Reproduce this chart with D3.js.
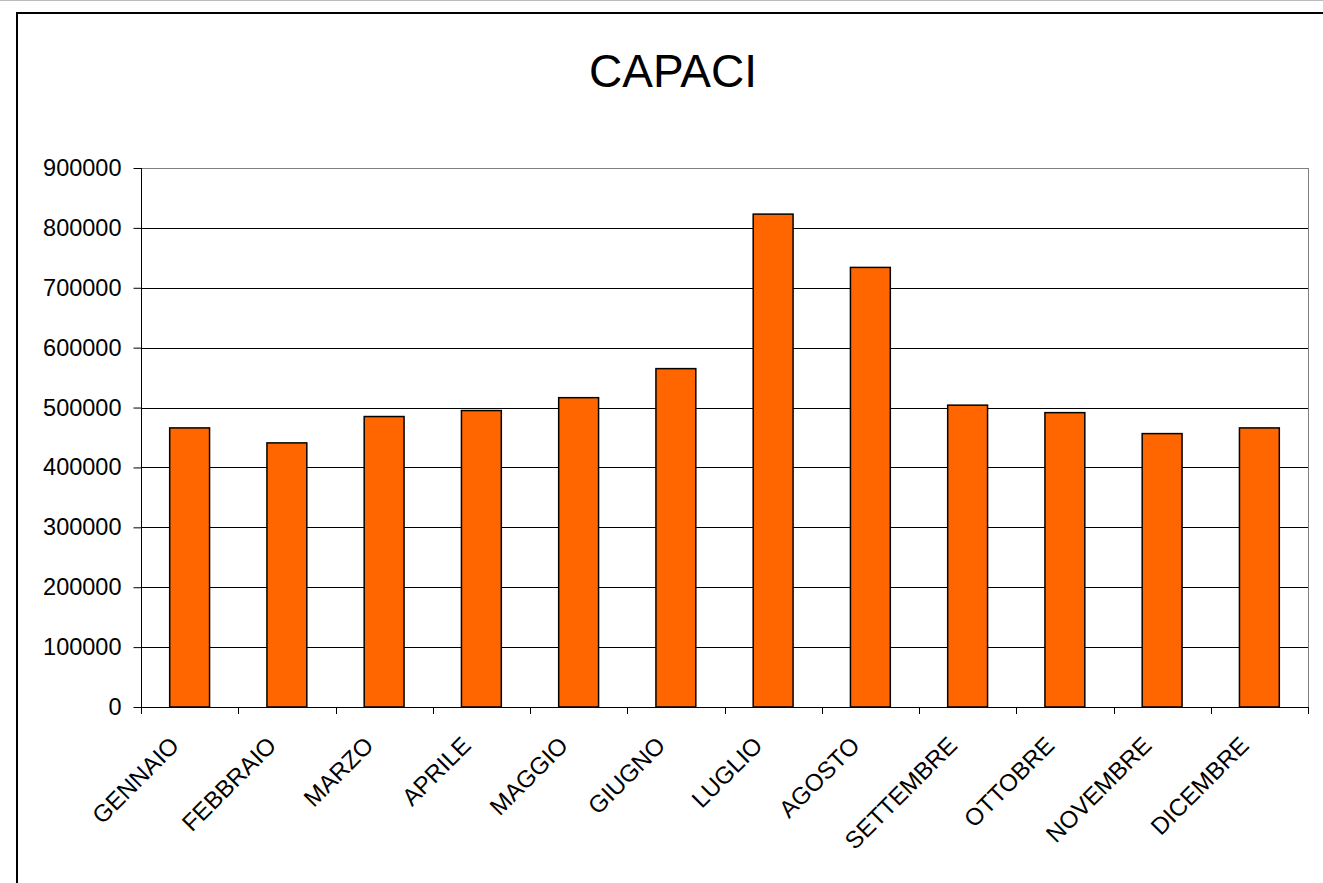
<!DOCTYPE html>
<html><head><meta charset="utf-8">
<script src="https://cdn.jsdelivr.net/npm/d3@7"></script>
<style>body{margin:0;background:#fff}svg{display:block}text{font-family:"Liberation Sans",Arial,sans-serif;fill:#000}</style>
</head><body>
<svg id="c" width="1323" height="883"></svg>
<script>
const categories = ["GENNAIO","FEBBRAIO","MARZO","APRILE","MAGGIO","GIUGNO","LUGLIO","AGOSTO","SETTEMBRE","OTTOBRE","NOVEMBRE","DICEMBRE"];
const values = [466000,441000,485000,495000,516500,565000,823000,734000,504000,491500,456500,466000];
const yTicks = [0,100000,200000,300000,400000,500000,600000,700000,800000,900000];
const title = "CAPACI";

const svg = d3.select("#c");
svg.append("line").attr("x1",0).attr("x2",1323).attr("y1",0.5).attr("y2",0.5).attr("stroke","#bbb");
svg.append("path").attr("d","M17,890 V13 H1330").attr("fill","none").attr("stroke","#000").attr("stroke-width",2);

const L=141,R=1308,T=168,B=707;
const x = d3.scaleBand().domain(categories).range([L,R]).paddingInner(0.59).paddingOuter(0.295);
const xb = d3.scaleBand().domain(categories).range([L,R]);
const y = d3.scaleLinear().domain([0,900000]).range([B,T]);

svg.append("text").attr("x",673).attr("y",87).attr("text-anchor","middle").style("font-size","46px").text(title);

// gridlines
svg.append("g").selectAll("line").data(yTicks.filter(d=>d>0)).join("line")
  .attr("x1",L).attr("x2",R).attr("y1",d=>Math.round(y(d))+0.5).attr("y2",d=>Math.round(y(d))+0.5)
  .attr("stroke",d=>d===900000?"#808080":"#000").attr("stroke-width",1);
svg.append("line").attr("x1",R+0.5).attr("x2",R+0.5).attr("y1",T).attr("y2",B).attr("stroke","#808080");

// bars
svg.append("g").selectAll("rect").data(values).join("rect")
  .attr("x",(d,i)=>x(categories[i])).attr("width",x.bandwidth())
  .attr("y",d=>y(d)).attr("height",d=>B-y(d))
  .attr("fill","#FF6600").attr("stroke","#000").attr("stroke-width",1.5);

// y axis
const ya = svg.append("g").attr("transform",`translate(${L+0.5},0)`)
  .call(d3.axisLeft(y).tickValues(yTicks).tickFormat(d3.format("d")).tickSize(8).tickPadding(12));
ya.select(".domain").attr("stroke","#000").attr("d",`M0,${T}V${B}`);
ya.selectAll(".tick line").attr("stroke","#000");
ya.selectAll("text").style("font-size","23.5px").style("font-family","Liberation Sans, Arial, sans-serif");

// x axis
svg.append("line").attr("x1",L).attr("x2",R).attr("y1",B+0.5).attr("y2",B+0.5).attr("stroke","#000");
const bounds = categories.map(c=>xb(c)).concat([R]);
svg.append("g").selectAll("line").data(bounds).join("line")
  .attr("x1",d=>Math.round(d)+0.5).attr("x2",d=>Math.round(d)+0.5).attr("y1",B).attr("y2",B+7).attr("stroke","#000");
svg.append("g").selectAll("text").data(categories).join("text")
  .attr("transform",d=>`translate(${xb(d)+xb.bandwidth()/2-15},${B+34}) rotate(-45)`)
  .attr("text-anchor","end").attr("dy","0.35em").style("font-size","24px").text(d=>d);
</script>
</body></html>
